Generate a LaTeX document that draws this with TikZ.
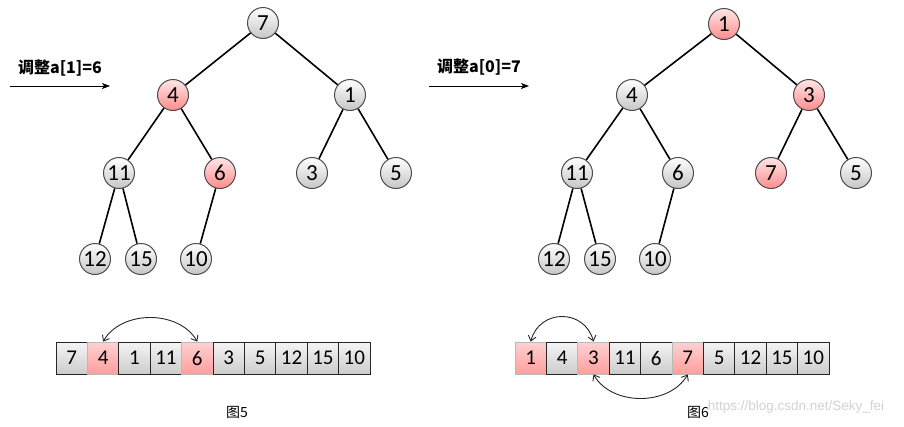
\documentclass[tikz,border=0pt]{standalone}
\usepackage{fontspec}
\setmainfont{Carlito}
\newfontfamily\cjk{Noto Sans CJK SC}
\newfontfamily\wmfont{Liberation Sans}
\usetikzlibrary{arrows.meta,positioning}

\begin{document}
\begin{tikzpicture}[
  x=1pt, y=-1pt,
  heap/.style={circle, draw=gray!60!black, line width=1pt, minimum size=31pt, inner sep=0pt, top color=white, bottom color=gray!45, font=\fontsize{23}{23}\selectfont},
  hot/.style={top color=red!10, bottom color=red!45},
  cell/.style={rectangle, draw=gray!30!black, line width=0.8pt, minimum width=31.4pt, minimum height=32pt, inner sep=0pt, top color=gray!8, bottom color=gray!40, font=\fontsize{21}{21}\selectfont},
  hotcell/.style={top color=red!18, bottom color=red!38, draw=gray!55},
  link/.style={line width=1.6pt},
  arrow/.style={-{Stealth[length=8pt,width=6pt,inset=2pt]}, line width=1pt},
  swap/.style={{Straight Barb[length=5pt,width=8pt]}-{Straight Barb[length=5pt,width=8pt]}, gray!30!black, line width=0.9pt},
  step label/.style={font=\cjk\bfseries\fontsize{16}{16}\selectfont},
  caption/.style={font=\cjk\fontsize{14}{14}\selectfont},
  wm/.style={font=\wmfont\fontsize{13.5}{13.5}\selectfont, text=gray!35}
]
  \useasboundingbox (0,0) rectangle (904,426);

  % left tree: after a[1]=6
  \node[heap] (p0) at (263,23) {7};
  \node[heap, hot] (p1) at (173,95) {4};
  \node[heap] (p2) at (350,95) {1};
  \node[heap] (p3) at (119,173) {11};
  \node[heap, hot] (p4) at (220,173) {6};
  \node[heap] (p5) at (312,173) {3};
  \node[heap] (p6) at (396,173) {5};
  \node[heap] (p7) at (95,259) {12};
  \node[heap] (p8) at (141,259) {15};
  \node[heap] (p9) at (196,259) {10};

  % right tree: after a[0]=7
  \node[heap, hot] (q0) at (724,24) {1};
  \node[heap] (q1) at (632,95) {4};
  \node[heap, hot] (q2) at (809,95) {3};
  \node[heap] (q3) at (577,173) {11};
  \node[heap] (q4) at (678,173) {6};
  \node[heap, hot] (q5) at (771,173) {7};
  \node[heap] (q6) at (856,173) {5};
  \node[heap] (q7) at (554,259) {12};
  \node[heap] (q8) at (600,259) {15};
  \node[heap] (q9) at (655,259) {10};

  \foreach \a/\b in {0/1,0/2,1/3,1/4,2/5,2/6,3/7,3/8,4/9}
    \draw[link] (p\a) -- (p\b) (q\a) -- (q\b);

  % step arrows
  \coordinate (s1) at (10,86);
  \coordinate (e1) at (110,86);
  \draw[arrow] (s1) -- (e1);
  \node[step label] (t1) at (60,68) {调整a[1]=6};
  \coordinate (s2) at (429,86);
  \coordinate (e2) at (529,86);
  \draw[arrow] (s2) -- (e2);
  \node[step label] (t2) at (479,67) {调整a[0]=7};

  % arrays
  \foreach \v/\s [count=\i] in {7/,4/hotcell,1/,11/,6/hotcell,3/,5/,12/,15/,10/}
    \node[cell, \s] (x\i) at ({56+31.4*(\i-0.5)},358) {\v};
  \foreach \v/\s [count=\i] in {1/hotcell,4/,3/hotcell,11/,6/,7/hotcell,5/,12/,15/,10/}
    \node[cell, \s] (y\i) at ({515+31.4*(\i-0.5)},358) {\v};

  \draw[swap] (x2.north) to[out=60,in=120] (x5.north);
  \draw[swap] (y1.north) to[out=75,in=105,looseness=1.4] (y3.north);
  \draw[swap] (y3.south) to[out=-60,in=-120] (y6.south);

  \node[wm] (w) at (796,407) {https://blog.csdn.net/Seky\_fei};
  \node[caption] (f5) at (237,412) {图5};
  \node[caption] (f6) at (698,412) {图6};
\end{tikzpicture}
\end{document}
